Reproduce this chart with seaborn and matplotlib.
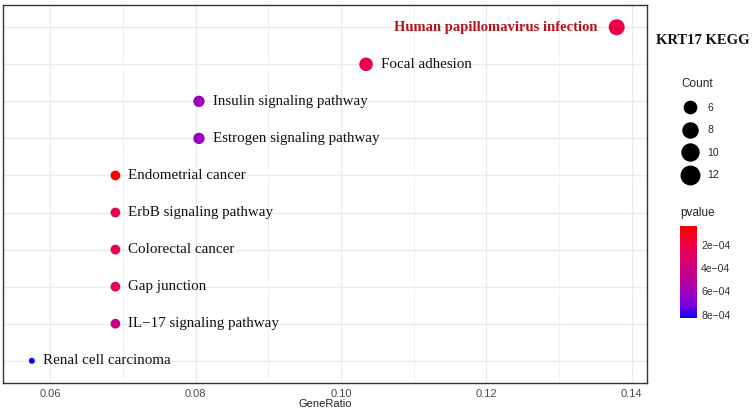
import numpy as np
import pandas as pd
import seaborn as sns
import matplotlib.pyplot as plt
from matplotlib.colors import LinearSegmentedColormap, Normalize
from matplotlib.cm import ScalarMappable
from matplotlib.lines import Line2D

# KEGG terms, bottom to top
terms = ['Renal cell carcinoma', 'IL\u221217 signaling pathway', 'Gap junction',
         'Colorectal cancer', 'ErbB signaling pathway', 'Endometrial cancer',
         'Estrogen signaling pathway', 'Insulin signaling pathway',
         'Focal adhesion', 'Human papillomavirus infection']
counts = [5, 6, 6, 6, 6, 6, 7, 7, 9, 12]
total_genes = 87
pvalues = [8.3e-04, 4.5e-04, 2.7e-04, 2.6e-04, 2.6e-04, 3.7e-05,
           6.3e-04, 6.1e-04, 2.3e-04, 2.1e-04]
highlight = 'Human papillomavirus infection'
legend_counts = [6, 8, 10, 12]
cbar_ticks = [2e-04, 4e-04, 6e-04, 8e-04]

df = pd.DataFrame({'Term': terms, 'Count': counts, 'pvalue': pvalues})
df['GeneRatio'] = df['Count'] / total_genes
df['pos'] = np.arange(len(df))

sns.set_style('white')
plt.rcParams['font.family'] = ['Liberation Sans', 'DejaVu Sans']

# ggplot-like red -> blue gradient (Lab interpolated)
cmap = LinearSegmentedColormap.from_list(
    'redblue', [(0, '#FF0000'), (0.25, '#E80050'), (0.5, '#CA0088'),
                (0.75, '#9A00C2'), (0.875, '#7300E0'), (1, '#0000FF')])
norm = Normalize(df['pvalue'].min(), df['pvalue'].max())

cmin, cmax = 5, 12
def diam_px(c):
    # area-style scale, diameter in pixels
    return 6 + 10 * np.sqrt((c - cmin) / (cmax - cmin))

size_map = {c: (diam_px(c) * 0.72) ** 2 for c in sorted(set(counts))}

fig = plt.figure(figsize=(7.54, 4.11), dpi=100)
ax = fig.add_axes([3 / 754, 28 / 411, 644 / 754, 378 / 411])

sns.scatterplot(data=df, x='GeneRatio', y='pos', hue='pvalue', palette=cmap,
                hue_norm=norm, size='Count', sizes=size_map, linewidth=0,
                legend=False, ax=ax, zorder=3)

for _, r in df.iterrows():
    off = (diam_px(r['Count']) / 2 + 8) * 0.72
    if r['Term'] == highlight:
        ax.annotate(r['Term'], (r['GeneRatio'], r['pos']), xytext=(-off - 2, 0),
                    textcoords='offset points', ha='right', va='center',
                    fontsize=10.5, fontweight='bold', color='#B2141C',
                    family='Liberation Serif')
    else:
        ax.annotate(r['Term'], (r['GeneRatio'], r['pos']), xytext=(off, 0),
                    textcoords='offset points', ha='left', va='center',
                    fontsize=10.8, color='#111111', family='Liberation Serif')

ax.set_xlim(0.0535, 0.1421)
ax.set_ylim(-0.6, len(df) - 0.4)
ax.set_xticks([0.06, 0.08, 0.10, 0.12, 0.14])
ax.set_xticklabels(['0.06', '0.08', '0.10', '0.12', '0.14'])
ax.set_xticks([0.07, 0.09, 0.11, 0.13], minor=True)
ax.set_yticks(df['pos'])
ax.set_yticklabels([])
ax.set_ylabel('')
ax.set_xlabel('GeneRatio', fontsize=8, color='#222222', labelpad=0)
ax.tick_params(axis='both', which='major', direction='out', length=3,
               width=0.8, color='#333333', labelsize=8, labelcolor='#4D4D4D', pad=1.5)
ax.tick_params(axis='x', which='minor', length=0)
ax.grid(True, which='major', color='#EBEBEB', lw=1.0, zorder=0)
ax.grid(True, which='minor', axis='x', color='#F2F2F2', lw=0.8, zorder=0)
ax.set_axisbelow(True)
for s in ax.spines.values():
    s.set_visible(True)
    s.set_color('#333333')
    s.set_linewidth(1.0)

# title in the right margin
fig.text(703 / 754, 1 - 40 / 411, 'KRT17 KEGG', ha='center', va='center',
         fontsize=10.5, fontweight='bold', family='Liberation Serif', color='#111111')

# Count legend
handles = [Line2D([], [], ls='none', marker='o', color='black',
                  markersize=(diam_px(c) + 2.5) * 0.72) for c in legend_counts]
leg = fig.legend(handles, [str(c) for c in legend_counts], title='Count',
                 loc='upper left', bbox_to_anchor=(677 / 754, 1 - 74 / 411),
                 frameon=False, fontsize=7.5, title_fontsize=8.5, handletextpad=0.9,
                 labelspacing=1.2, borderaxespad=0, handlelength=1.6)
leg._legend_box.align = 'left'

# pvalue colourbar
fig.text(680 / 754, 1 - 213 / 411, 'pvalue', ha='left', va='center', fontsize=8.5,
         color='#222222')
cax = fig.add_axes([680 / 754, 1 - 318 / 411, 17 / 754, 92 / 411])
cb = fig.colorbar(ScalarMappable(norm=norm, cmap=cmap), cax=cax)
cb.outline.set_visible(False)
cax.invert_yaxis()
cb.set_ticks(cbar_ticks)
cb.set_ticklabels(['2e\u221204', '4e\u221204', '6e\u221204', '8e\u221204'])
cax.yaxis.set_ticks_position('both')
cax.tick_params(axis='y', direction='in', length=4, width=0.8, color='white',
                labelsize=7.5, labelcolor='#333333', pad=3, labelleft=False,
                labelright=True)

fig.savefig('out.png', dpi=100)
